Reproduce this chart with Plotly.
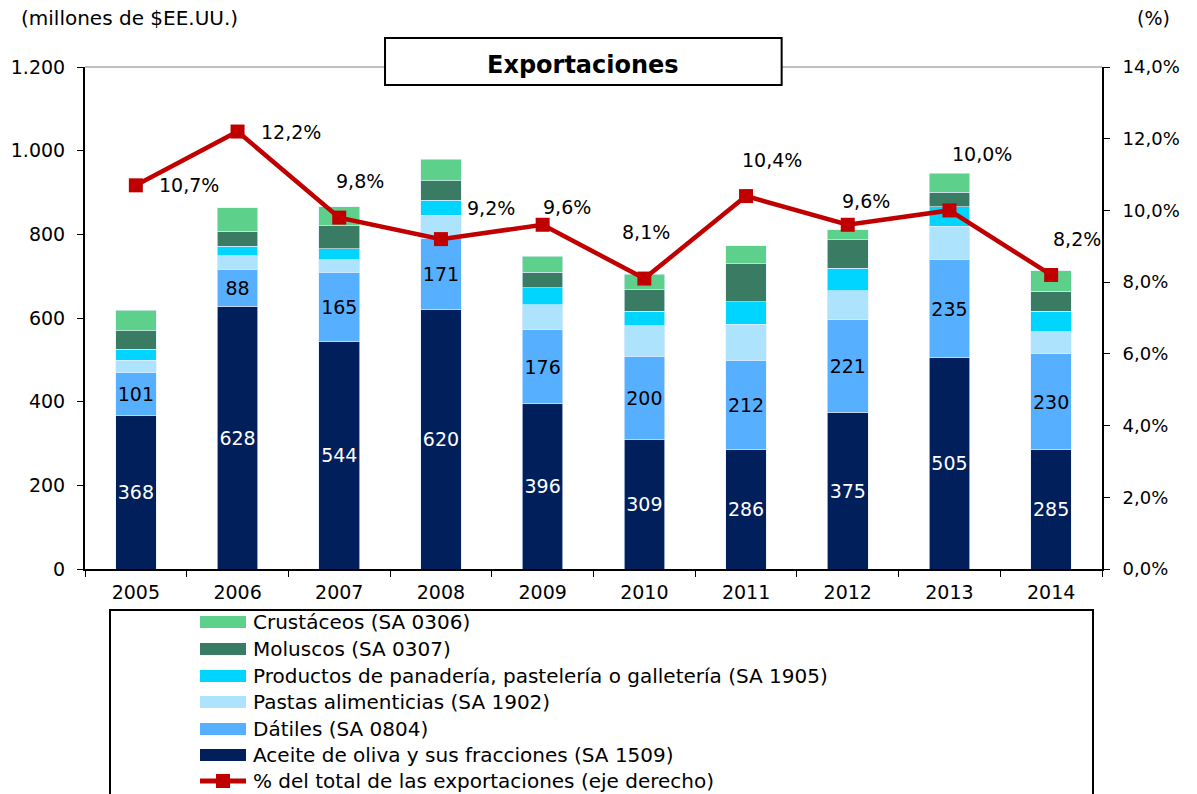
import plotly.graph_objects as go

years = ["2005", "2006", "2007", "2008", "2009", "2010", "2011", "2012", "2013", "2014"]
aceite = [368, 628, 544, 620, 396, 309, 286, 375, 505, 285]
datiles = [101, 88, 165, 171, 176, 200, 212, 221, 235, 230]
pastas = [30, 33, 30, 55, 60, 72, 87, 69, 79, 52]
panaderia = [26, 22, 27, 36, 40, 35, 54, 54, 47, 49]
moluscos = [44, 36, 55, 46, 37, 51, 91, 68, 35, 48]
crustaceos = [49, 57, 45, 51, 39, 38, 43, 24, 45, 49]
pct_total = [10.7, 12.2, 9.8, 9.2, 9.6, 8.1, 10.4, 9.6, 10.0, 8.2]

# label offsets in pixels (style, not data)
lbl_dx = [53, 53, 21, 50, 24, 2, 26, 18, 33, 26]
lbl_dy = [0, 0, 37, 31, 18, 47, 36, 24, 56, 36]

names = {
    "crus": "Crustáceos (SA 0306)",
    "mol": "Moluscos (SA 0307)",
    "pan": "Productos de panadería, pastelería o galletería (SA 1905)",
    "pas": "Pastas alimenticias (SA 1902)",
    "dat": "Dátiles (SA 0804)",
    "ace": "Aceite de oliva y sus fracciones (SA 1509)",
    "pct": "% del total de las exportaciones (eje derecho)",
}
colors = {
    "crus": "#5DD18B",
    "mol": "#3A7C63",
    "pan": "#00D5FF",
    "pas": "#ADE3FC",
    "dat": "#57B0FF",
    "ace": "#001F5B",
}
RED = "#C00000"
FONT = "DejaVu Sans"

fig = go.Figure()

stack = [
    ("ace", aceite, True, "white"),
    ("dat", datiles, True, "black"),
    ("pas", pastas, False, None),
    ("pan", panaderia, False, None),
    ("mol", moluscos, False, None),
    ("crus", crustaceos, False, None),
]
for key, vals, lab, tcol in stack:
    fig.add_trace(go.Bar(
        x=years, y=vals, name=names[key], showlegend=False,
        marker=dict(color=colors[key], line=dict(color="rgba(225,238,255,0.8)", width=0.8)),
        text=[str(v) for v in vals] if lab else None,
        textposition="inside" if lab else "none",
        insidetextanchor="middle", textangle=0,
        textfont=dict(family=FONT, size=19, color=tcol if tcol else "black"),
        hoverinfo="skip",
    ))

fig.add_trace(go.Scatter(
    x=years, y=pct_total, yaxis="y2", mode="lines+markers", showlegend=False,
    name=names["pct"],
    line=dict(color=RED, width=4.5), marker=dict(symbol="square", size=14, color=RED),
    cliponaxis=False, hoverinfo="skip",
))

annotations = []
for i, p in enumerate(pct_total):
    annotations.append(dict(
        x=i, y=p, xref="x", yref="y2", text=f"{p:.1f}".replace(".", ",") + "%",
        showarrow=False, xshift=lbl_dx[i], yshift=lbl_dy[i],
        font=dict(family=FONT, size=19, color="black"),
    ))

annotations += [
    dict(x=0.490, y=1.004, xref="paper", yref="paper", text="<b>Exportaciones</b>",
         showarrow=False, font=dict(family=FONT, size=24, color="black"),
         xanchor="center", yanchor="middle"),
    dict(x=-0.065, y=1.0976, xref="paper", yref="paper", text="(millones de $EE.UU.)",
         showarrow=False, font=dict(family=FONT, size=20, color="black"),
         xanchor="left", yanchor="middle"),
    dict(x=1.051, y=1.0976, xref="paper", yref="paper", text="(%)",
         showarrow=False, font=dict(family=FONT, size=19, color="black"),
         xanchor="center", yanchor="middle"),
]

shapes = [
    dict(type="line", xref="paper", yref="paper", x0=0, x1=1, y0=1, y1=1,
         line=dict(color="#808080", width=1), layer="below"),
    dict(type="rect", xref="paper", yref="paper", x0=0.295, x1=0.685, y0=0.964, y1=1.0578,
         line=dict(color="black", width=2), fillcolor="white", layer="above"),
]

W, H = 1197, 794

# Legend box
shapes.append(dict(type="rect", xref="paper", yref="paper",
                   x0=(110 - 85) / 1017, x1=(1093 - 85) / 1017,
                   y0=(569 - 610) / 502, y1=(569 - 810) / 502,
                   line=dict(color="black", width=2), fillcolor="rgba(0,0,0,0)", layer="above"))

legend_keys = ["crus", "mol", "pan", "pas", "dat", "ace", "pct"]
legend_rows = [622, 649, 676, 702, 729, 755, 781]
for key, yc in zip(legend_keys, legend_rows):
    y_p = (569 - yc) / 502
    if key == "pct":
        shapes.append(dict(type="line", xref="paper", yref="paper",
                           x0=(200 - 85) / 1017, x1=(246 - 85) / 1017, y0=y_p, y1=y_p,
                           line=dict(color=RED, width=5), layer="above"))
        shapes.append(dict(type="rect", xref="paper", yref="paper",
                           x0=(216 - 85) / 1017, x1=(230 - 85) / 1017,
                           y0=(569 - yc + 7) / 502, y1=(569 - yc - 7) / 502,
                           line=dict(color=RED, width=0), fillcolor=RED, layer="above"))
    else:
        shapes.append(dict(type="rect", xref="paper", yref="paper",
                           x0=(200 - 85) / 1017, x1=(246 - 85) / 1017,
                           y0=(569 - yc + 6) / 502, y1=(569 - yc - 6) / 502,
                           line=dict(width=0), fillcolor=colors[key], layer="above"))
    annotations.append(dict(x=(251 - 85) / 1017, y=y_p, xref="paper", yref="paper",
                            text=names[key], showarrow=False, xanchor="left", yanchor="middle",
                            font=dict(family=FONT, size=20, color="black")))

fig.update_layout(
    width=W, height=H,
    margin=dict(l=85, r=95, t=67, b=225, pad=0, autoexpand=False),
    plot_bgcolor="white", paper_bgcolor="white",
    barmode="stack", bargap=0.6,
    separators=",.",
    showlegend=False,
    uniformtext=dict(minsize=19, mode="show"),
    font=dict(family=FONT, size=19, color="black"),
    xaxis=dict(type="category", range=[-0.5, 9.5], showline=True, linecolor="black", linewidth=2,
               ticks="outside", tickson="boundaries", ticklen=6, tickcolor="black", tickwidth=1,
               showgrid=False, tickfont=dict(family=FONT, size=19), ticklabelstandoff=5),
    yaxis=dict(range=[0, 1200], dtick=200, tickformat=",d", showline=True, linecolor="black",
               linewidth=2, ticks="outside", ticklen=6, tickcolor="black", showgrid=False,
               zeroline=False, tickfont=dict(family=FONT, size=19), ticklabelstandoff=8),
    yaxis2=dict(range=[0, 14], dtick=2, tickformat=".1f", ticksuffix="%", overlaying="y",
                side="right", showline=True, linecolor="black", linewidth=2, ticks="outside",
                ticklen=6, tickcolor="black", tickwidth=1, showgrid=False, zeroline=False,
                tickfont=dict(family=FONT, size=18), ticklabelstandoff=9),
    annotations=annotations,
    shapes=shapes,
)

fig.write_html("out.html", post_script="document.body.style.margin='0';",
               config={"displayModeBar": False})
